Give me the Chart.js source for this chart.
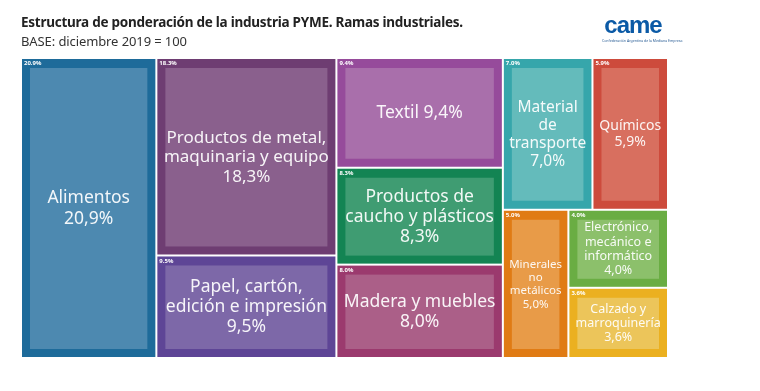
<!DOCTYPE html>
<html>
<head>
<meta charset="utf-8">
<script src="https://cdn.jsdelivr.net/npm/chart.js@4"></script>
<style>
  html, body { margin: 0; padding: 0; background: #fff; }
  #wrap { position: relative; width: 760px; height: 391px; font-family: "Noto Sans", sans-serif; }
  #title { position: absolute; left: 21px; top: 13px; font-size: 13.5px; letter-spacing: -0.25px; font-weight: bold; color: #222; white-space: nowrap; }
  #subtitle { position: absolute; left: 21px; top: 32px; font-size: 13px; letter-spacing: -0.1px; color: #333; white-space: nowrap; }
  #logo { position: absolute; left: 602px; top: 12px; width: 62px; text-align: center; color: #0b5aa6; }
  #logo .mark { font-family: "Liberation Sans", sans-serif; font-weight: bold; font-size: 24px; letter-spacing: -1px; line-height: 26px; }
  #logo .sub { font-size: 3.5px; line-height: 5px; white-space: nowrap; color: #2a5d95; }
  canvas { position: absolute; left: 0; top: 0; }
</style>
</head>
<body>
<div id="wrap">
  <canvas id="treemap" width="760" height="391"></canvas>
  <div id="title">Estructura de ponderación de la industria PYME. Ramas industriales.</div>
  <div id="subtitle">BASE: diciembre 2019 = 100</div>
  <div id="logo"><div class="mark">came</div><div class="sub">Confederación Argentina de la Mediana Empresa</div></div>
</div>
<script>
// categories (label lines, {v} = value), sorted by weight
const categories = [
  'Alimentos\n{v}',
  'Productos de metal,\nmaquinaria y equipo\n{v}',
  'Papel, cartón,\nedición e impresión\n{v}',
  'Textil {v}',
  'Productos de\ncaucho y plásticos\n{v}',
  'Madera y muebles\n{v}',
  'Material\nde\ntransporte\n{v}',
  'Químicos\n{v}',
  'Minerales\nno\nmetálicos\n{v}',
  'Electrónico,\nmecánico e\ninformático\n{v}',
  'Calzado y\nmarroquinería\n{v}'
];
const values = [20.9, 18.3, 9.5, 9.4, 8.3, 8.0, 7.0, 5.9, 5.0, 4.0, 3.6];
const outerColors = ['#1e6b9a', '#6e3d72', '#5e4596', '#964b9b', '#138453', '#9b3a6e',
                     '#36a6ab', '#cd4b3c', '#e07b14', '#6aad43', '#ebb020'];
const innerColors = ['#4d89b0', '#8a608d', '#7d68a8', '#a96fab', '#3f9c72', '#ab5f88',
                     '#64bbbb', '#d86f5f', '#e89b48', '#8cc06b', '#ecc55a'];

// binary treemap split (same idea as d3.treemapBinary)
function binaryLayout(vals, x0, y0, x1, y1) {
  const n = vals.length, sums = [0], rects = new Array(n);
  for (let i = 0; i < n; i++) sums.push(sums[i] + vals[i]);
  function part(i, j, value, x0, y0, x1, y1) {
    if (i >= j - 1) { rects[i] = { x0, y0, x1, y1 }; return; }
    const off = sums[i], target = value / 2 + off;
    let k = i + 1, hi = j - 1;
    while (k < hi) { const mid = (k + hi) >>> 1; if (sums[mid] < target) k = mid + 1; else hi = mid; }
    if ((target - sums[k - 1]) < (sums[k] - target) && i + 1 < k) --k;
    const vl = sums[k] - off, vr = value - vl;
    if ((x1 - x0) > (y1 - y0)) {
      const xk = (x0 * vr + x1 * vl) / value;
      part(i, k, vl, x0, y0, xk, y1); part(k, j, vr, xk, y0, x1, y1);
    } else {
      const yk = (y0 * vr + y1 * vl) / value;
      part(i, k, vl, x0, y0, x1, yk); part(k, j, vr, x0, yk, x1, y1);
    }
  }
  part(0, n, sums[n], x0, y0, x1, y1);
  return rects;
}

const treemapPlugin = {
  id: 'treemapCells',
  afterDatasetsDraw(chart) {
    const ctx = chart.ctx, xs = chart.scales.x, ys = chart.scales.y;
    const rects = binaryLayout(values, xs.getPixelForValue(0), ys.getPixelForValue(100),
                               xs.getPixelForValue(100), ys.getPixelForValue(0));
    const font = '"Noto Sans", sans-serif';
    ctx.save();
    rects.forEach((r, i) => {
      const x = r.x0 + 1, y = r.y0 + 1, w = r.x1 - r.x0 - 2, h = r.y1 - r.y0 - 2;
      ctx.fillStyle = outerColors[i];
      ctx.fillRect(x, y, w, h);
      const ix = x + 8, iy = y + 9, iw = w - 16, ih = h - 17;
      ctx.fillStyle = innerColors[i];
      ctx.fillRect(ix, iy, iw, ih);
      // small header value
      ctx.fillStyle = '#fff';
      ctx.font = 'bold 6px ' + font;
      ctx.textAlign = 'left';
      ctx.textBaseline = 'middle';
      ctx.fillText(values[i].toFixed(1) + '%', x + 2, y + 4.5);
      // main label, fitted to the inner box
      const lines = categories[i].replace('{v}', values[i].toFixed(1).replace('.', ',') + '%').split('\n');
      let size = 17.5;
      for (; size > 8; size -= 0.5) {
        ctx.font = size + 'px ' + font;
        const maxW = Math.max(...lines.map(l => ctx.measureText(l).width));
        if (maxW <= iw + 6 && lines.length * size * 1.15 <= ih) break;
      }
      ctx.font = size + 'px ' + font;
      ctx.fillStyle = 'rgba(255,255,255,0.93)';
      ctx.textAlign = 'center';
      const lh = size * 1.15, cx = ix + iw / 2, cy = iy + ih / 2;
      lines.forEach((l, k) => ctx.fillText(l, cx, cy + (k - (lines.length - 1) / 2) * lh));
    });
    ctx.restore();
  }
};

new Chart(document.getElementById('treemap').getContext('2d'), {
  type: 'scatter',
  data: { datasets: [{ data: [] }] },
  options: {
    responsive: false,
    animation: false,
    layout: { padding: { left: 21, top: 58, right: 92, bottom: 33 } },
    scales: {
      x: { type: 'linear', min: 0, max: 100, display: false },
      y: { type: 'linear', min: 0, max: 100, display: false }
    },
    plugins: { legend: { display: false }, tooltip: { enabled: false } }
  },
  plugins: [treemapPlugin]
});
</script>
</body>
</html>
